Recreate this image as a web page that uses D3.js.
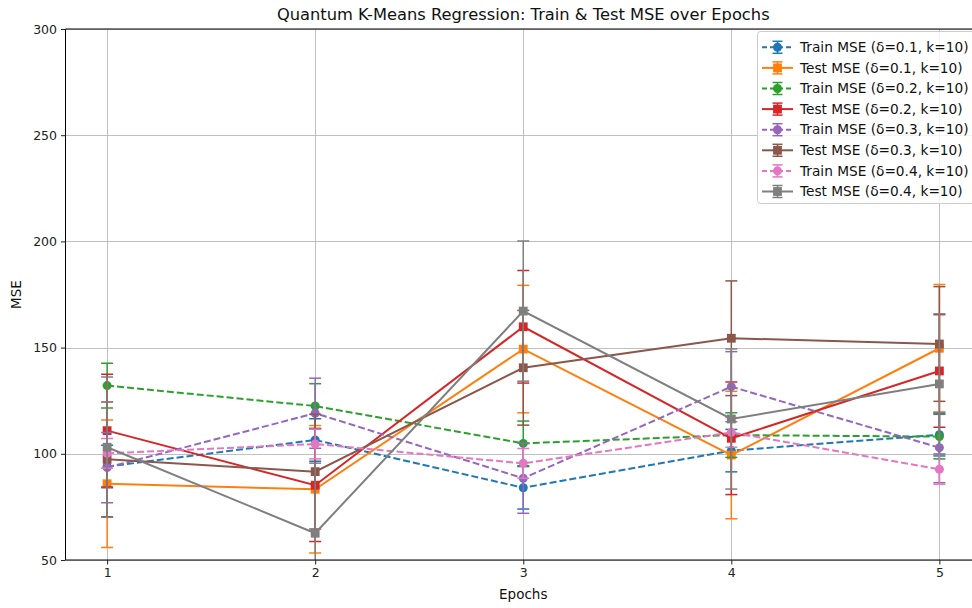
<!DOCTYPE html>
<html>
<head>
<meta charset="utf-8">
<script src="https://cdn.jsdelivr.net/npm/d3@7"></script>
<style>
html,body{margin:0;padding:0;background:#fff;}
svg{display:block;font-family:"DejaVu Sans",sans-serif;}
</style>
</head>
<body>
<svg id="chart" width="972" height="608"></svg>
<script>
const epochs = [1, 2, 3, 4, 5];
const yTicks = [50, 100, 150, 200, 250, 300];

const seriesNames = [
  "Train MSE (δ=0.1, k=10)", "Test MSE (δ=0.1, k=10)",
  "Train MSE (δ=0.2, k=10)", "Test MSE (δ=0.2, k=10)",
  "Train MSE (δ=0.3, k=10)", "Test MSE (δ=0.3, k=10)",
  "Train MSE (δ=0.4, k=10)", "Test MSE (δ=0.4, k=10)"
];
const train01 = [94.0, 106.5, 84.0, 101.5, 109.0];
const test01  = [85.9, 83.3, 149.3, 99.4, 149.7];
const train02 = [132.1, 122.5, 104.9, 108.8, 108.1];
const test02  = [110.9, 85.2, 159.8, 107.3, 139.0];
const train03 = [93.5, 119.1, 88.5, 131.6, 102.9];
const test03  = [97.4, 91.6, 140.5, 154.4, 151.7];
const train04 = [100.2, 104.6, 95.5, 110.1, 92.7];
const test04  = [103.1, 62.6, 167.2, 116.4, 132.9];

const errTrain01 = [10, 10, 10, 10, 10];
const errTest01  = [30, 30, 30, 30, 30];
const errTrain02 = [10.5, 10.5, 10.5, 10.5, 10.5];
const errTest02  = [26.5, 26.5, 26.5, 26.5, 26.5];
const errTrain03 = [16.5, 16.5, 16.5, 16.5, 16.5];
const errTest03  = [27, 27, 27, 27, 27];
const errTrain04 = [7, 7, 7, 7, 7];
const errTest04  = [33, 33, 33, 33, 33];

const colors = ["#1f77b4","#ff7f0e","#2ca02c","#d62728","#9467bd","#8c564b","#e377c2","#7f7f7f"];
const values = [train01,test01,train02,test02,train03,test03,train04,test04];
const errors = [errTrain01,errTest01,errTrain02,errTest02,errTrain03,errTest03,errTrain04,errTest04];

const series = seriesNames.map((name,i)=>({
  name, color: colors[i], vals: values[i], errs: errors[i], train: i%2===0
}));

const svg = d3.select("#chart");
const L = 65.5, R = 981, T = 29, B = 560;

const x = d3.scaleLinear().domain([0.8, 5.2]).range([L, R]);
const y = d3.scaleLinear().domain([50, 300]).range([B, T]);

svg.append("defs").append("clipPath").attr("id","clip")
  .append("rect").attr("x",L).attr("y",T).attr("width",R-L).attr("height",B-T);

// grid
const grid = svg.append("g");
grid.selectAll("line.gx").data(epochs).enter().append("line")
  .attr("x1",d=>Math.round(x(d))+0.5).attr("x2",d=>Math.round(x(d))+0.5)
  .attr("y1",T).attr("y2",B).attr("stroke","#b0b0b0").attr("stroke-width",0.8);
grid.selectAll("line.gy").data(yTicks).enter().append("line")
  .attr("x1",L).attr("x2",R)
  .attr("y1",d=>Math.round(y(d))+0.5).attr("y2",d=>Math.round(y(d))+0.5)
  .attr("stroke","#b0b0b0").attr("stroke-width",0.8);

// series
const plot = svg.append("g").attr("clip-path","url(#clip)");
const line = d3.line().x((d,i)=>x(epochs[i])).y(d=>y(d));
const capW = 6;

series.forEach(s=>{
  const g = plot.append("g");
  s.vals.forEach((v,i)=>{
    const cx = x(epochs[i]);
    const lo = y(v - s.errs[i]), hi = y(v + s.errs[i]);
    g.append("line").attr("x1",cx).attr("x2",cx).attr("y1",lo).attr("y2",hi)
      .attr("stroke",s.color).attr("stroke-width",1.5);
    [lo,hi].forEach(yy=>{
      g.append("line").attr("x1",cx-capW).attr("x2",cx+capW).attr("y1",yy).attr("y2",yy)
        .attr("stroke",s.color).attr("stroke-width",1.5);
    });
  });
  g.append("path").attr("d",line(s.vals)).attr("fill","none")
    .attr("stroke",s.color).attr("stroke-width",2)
    .attr("stroke-dasharray", s.train ? "7,3" : null);
  s.vals.forEach((v,i)=>{
    const cx = x(epochs[i]), cy = y(v);
    if (s.train) {
      g.append("circle").attr("cx",cx).attr("cy",cy).attr("r",4.5).attr("fill",s.color);
    } else {
      g.append("rect").attr("x",cx-4.4).attr("y",cy-4.4).attr("width",8.8).attr("height",8.8).attr("fill",s.color);
    }
  });
});

// spines
svg.append("line").attr("x1",L).attr("x2",L).attr("y1",T).attr("y2",B).attr("stroke","#000").attr("stroke-width",1);
svg.append("line").attr("x1",L).attr("x2",R).attr("y1",B).attr("y2",B).attr("stroke","#000").attr("stroke-width",1);
svg.append("line").attr("x1",L).attr("x2",R).attr("y1",T).attr("y2",T).attr("stroke","#000").attr("stroke-width",1);

// axes
const xAxis = d3.axisBottom(x).tickValues(epochs).tickFormat(d3.format("d")).tickSize(4.5).tickPadding(4);
const yAxis = d3.axisLeft(y).tickValues(yTicks).tickFormat(d3.format("d")).tickSize(4.5).tickPadding(4);
const gx = svg.append("g").attr("transform",`translate(0,${B})`).call(xAxis);
const gy = svg.append("g").attr("transform",`translate(${L},0)`).call(yAxis);
[gx,gy].forEach(g=>{
  g.select(".domain").remove();
  g.selectAll("text").attr("font-family","DejaVu Sans").attr("font-size",12.5).attr("fill","#222");
  g.selectAll("line").attr("stroke","#222");
});

// title & labels
svg.append("text").attr("x",(L+R)/2).attr("y",20).attr("text-anchor","middle")
  .attr("font-size",16.3).attr("fill","#111")
  .text("Quantum K-Means Regression: Train & Test MSE over Epochs");
svg.append("text").attr("x",(L+R)/2).attr("y",599).attr("text-anchor","middle")
  .attr("font-size",13.5).attr("fill","#111").text("Epochs");
svg.append("text").attr("transform",`translate(21,${(T+B)/2}) rotate(-90)`).attr("text-anchor","middle")
  .attr("font-size",13.5).attr("fill","#111").text("MSE");

// legend
const lg = svg.append("g");
lg.append("rect").attr("x",757.5).attr("y",31.5).attr("width",230).attr("height",172)
  .attr("rx",3).attr("fill","#fff").attr("fill-opacity",0.8).attr("stroke","#cccccc");
series.forEach((s,i)=>{
  const cy = 47.3 + i*20.6;
  const x0 = 762, x1 = 793, xm = (x0+x1)/2;
  lg.append("line").attr("x1",x0).attr("x2",x1).attr("y1",cy).attr("y2",cy)
    .attr("stroke",s.color).attr("stroke-width",2)
    .attr("stroke-dasharray", s.train ? "5,3" : null);
  lg.append("line").attr("x1",xm).attr("x2",xm).attr("y1",cy-6).attr("y2",cy+6)
    .attr("stroke",s.color).attr("stroke-width",1.5);
  [cy-6,cy+6].forEach(yy=>lg.append("line").attr("x1",xm-5).attr("x2",xm+5).attr("y1",yy).attr("y2",yy)
    .attr("stroke",s.color).attr("stroke-width",1.5));
  if (s.train) lg.append("circle").attr("cx",xm).attr("cy",cy).attr("r",4.5).attr("fill",s.color);
  else lg.append("rect").attr("x",xm-4.4).attr("y",cy-4.4).attr("width",8.8).attr("height",8.8).attr("fill",s.color);
  lg.append("text").attr("x",800).attr("y",cy).attr("dy","0.35em")
    .attr("font-size",13.7).attr("fill","#111").text(s.name);
});
</script>
</body>
</html>
